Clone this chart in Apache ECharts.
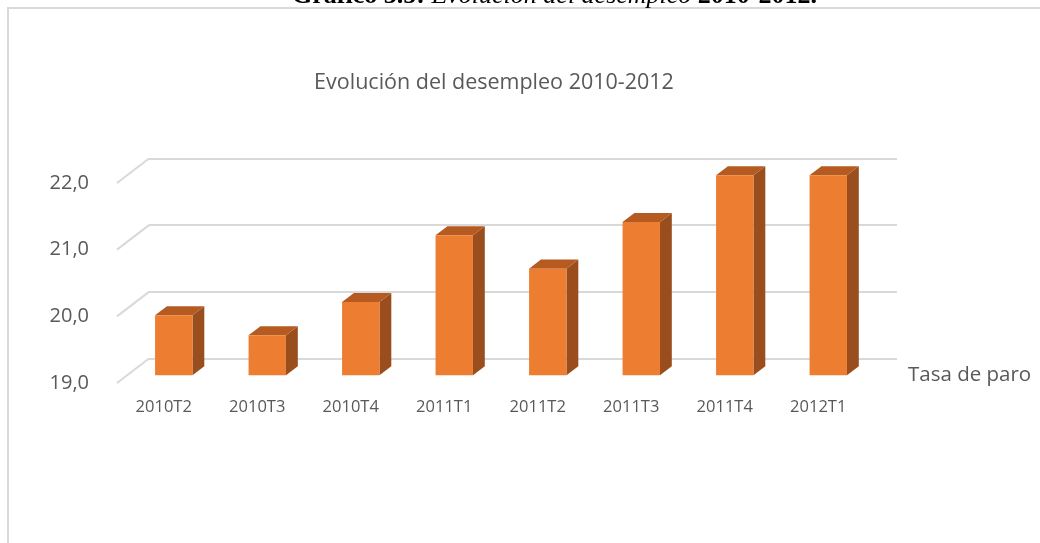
<!DOCTYPE html>
<html>
<head>
<meta charset="utf-8">
<script src="https://cdn.jsdelivr.net/npm/echarts@6/dist/echarts.min.js"></script>
<style>
  html, body { margin: 0; padding: 0; background: #ffffff; }
  #chart { width: 1040px; height: 543px; }
</style>
</head>
<body>
<div id="chart"></div>
<script>
// Quarterly unemployment rate (%), EPA
const categories = ['2010T2', '2010T3', '2010T4', '2011T1', '2011T2', '2011T3', '2011T4', '2012T1'];
const tasaParo = [19.9, 19.6, 20.1, 21.1, 20.6, 21.3, 22.0, 22.0];
const yTicks = [19, 20, 21, 22];
const seriesName = 'Tasa de paro';
const chartTitle = 'Evolución del desempleo 2010-2012';

// Oblique projection used for the pseudo-3D look: moving from the back wall
// to the front edge of the floor shifts a point by (DX, DY) pixels.
const DX = -32;
const DY = 24.5;
const BAR_FRONT = 0.687;   // depth fraction of the bar's front face
const BAR_BACK = 0.317;    // depth fraction of the bar's back face
const BAR_RATIO = 0.4;     // bar width relative to the category band

const GRID_BACK = { left: 149, right: 143, top: 158.5, bottom: 184.5 };
const GRID_FRONT = {
  left: GRID_BACK.left + DX,
  right: GRID_BACK.right - DX,
  top: GRID_BACK.top + DY,
  bottom: GRID_BACK.bottom - DY
};

const FONT = '"Open Sans", "Noto Sans", sans-serif';
const TEXT_GREY = '#595959';
const LINE_GREY = '#d9d9d9';

const chart = echarts.init(document.getElementById('chart'), null, { renderer: 'canvas' });

function renderDepthLine(params, api) {
  const p = api.coord([0, api.value(1)]);
  const x0 = params.coordSys.x;
  return {
    type: 'line',
    shape: { x1: x0, y1: p[1], x2: x0 + DX, y2: p[1] + DY },
    style: { stroke: LINE_GREY, lineWidth: 2 }
  };
}

function renderBar(params, api) {
  const idx = api.value(0);
  const top = api.coord([idx, api.value(1)]);
  const base = api.coord([idx, yTicks[0]]);
  const band = api.size([1, 0])[0];
  const w = band * BAR_RATIO;
  const fx = top[0] - w / 2 + DX * BAR_FRONT;
  const fyTop = top[1] + DY * BAR_FRONT;
  const fyBase = base[1] + DY * BAR_FRONT;
  const ox = DX * (BAR_BACK - BAR_FRONT);
  const oy = DY * (BAR_BACK - BAR_FRONT);
  return {
    type: 'group',
    children: [
      {
        type: 'polygon',
        shape: { points: [[fx + w, fyTop], [fx + w + ox, fyTop + oy], [fx + w + ox, fyBase + oy], [fx + w, fyBase]] },
        style: { fill: '#9a4e1e' }
      },
      {
        type: 'polygon',
        shape: { points: [[fx, fyTop], [fx + w, fyTop], [fx + w + ox, fyTop + oy], [fx + ox, fyTop + oy]] },
        style: { fill: '#b55b22' }
      },
      {
        type: 'rect',
        shape: { x: fx, y: fyTop, width: w, height: fyBase - fyTop },
        style: { fill: '#ed7d31' }
      }
    ]
  };
}

const option = {
  animation: false,
  backgroundColor: '#ffffff',
  title: {
    text: chartTitle,
    left: 489,
    textAlign: 'center',
    top: 67,
    textStyle: { fontFamily: FONT, fontSize: 21.5, fontWeight: 'normal', color: TEXT_GREY }
  },
  legend: {
    data: [seriesName],
    left: 898,
    top: 360,
    itemWidth: 0,
    itemHeight: 0,
    selectedMode: false,
    textStyle: { fontFamily: FONT, fontSize: 20.5, color: TEXT_GREY }
  },
  graphic: [
    {
      type: 'rect',
      shape: { x: 8, y: 8, width: 1100, height: 600 },
      style: { fill: 'none', stroke: LINE_GREY, lineWidth: 2 },
      silent: true
    },
    {
      type: 'text',
      x: 817,
      y: 9,
      style: {
        text: '{b|Gráfico 3.5:} {i|Evolución del desempleo} {b|2010-2012.}',
        align: 'right',
        verticalAlign: 'bottom',
        rich: {
          b: { fontFamily: '"Liberation Serif", serif', fontWeight: 'bold', fontSize: 26, fill: '#000' },
          i: { fontFamily: '"Liberation Serif", serif', fontStyle: 'italic', fontSize: 26, fill: '#000' }
        },
        fontFamily: '"Liberation Serif", serif',
        fontSize: 26,
        fill: '#000'
      },
      silent: true
    }
  ],
  grid: [
    Object.assign({}, GRID_BACK),
    Object.assign({}, GRID_FRONT)
  ],
  xAxis: [
    {
      type: 'category',
      gridIndex: 0,
      data: categories,
      axisLine: { show: false },
      axisTick: { show: false },
      axisLabel: { show: false },
      splitLine: { show: false }
    },
    {
      type: 'category',
      gridIndex: 1,
      data: categories,
      axisLine: { show: false },
      axisTick: { show: false },
      splitLine: { show: false },
      axisLabel: { fontFamily: FONT, fontSize: 16.5, color: TEXT_GREY, margin: 16 }
    }
  ],
  yAxis: [
    {
      type: 'value',
      gridIndex: 0,
      min: yTicks[0],
      max: yTicks[yTicks.length - 1],
      interval: 1,
      axisLine: { show: false },
      axisTick: { show: false },
      axisLabel: { show: false },
      splitLine: { show: true, lineStyle: { color: LINE_GREY, width: 2 } }
    },
    {
      type: 'value',
      gridIndex: 1,
      min: yTicks[0],
      max: yTicks[yTicks.length - 1],
      interval: 1,
      axisLine: { show: false },
      axisTick: { show: false },
      splitLine: { show: false },
      axisLabel: {
        fontFamily: FONT,
        fontSize: 20,
        color: TEXT_GREY,
        margin: 28,
        formatter: v => v.toFixed(1).replace('.', ',')
      }
    }
  ],
  series: [
    {
      type: 'custom',
      name: 'floor-edges',
      xAxisIndex: 0,
      yAxisIndex: 0,
      silent: true,
      renderItem: renderDepthLine,
      data: yTicks.map(v => [0, v]),
      z: 1
    },
    {
      type: 'custom',
      name: seriesName,
      xAxisIndex: 0,
      yAxisIndex: 0,
      itemStyle: { color: '#ed7d31' },
      renderItem: renderBar,
      data: tasaParo.map((v, i) => [i, v]),
      z: 3
    }
  ]
};

chart.setOption(option);
</script>
</body>
</html>
